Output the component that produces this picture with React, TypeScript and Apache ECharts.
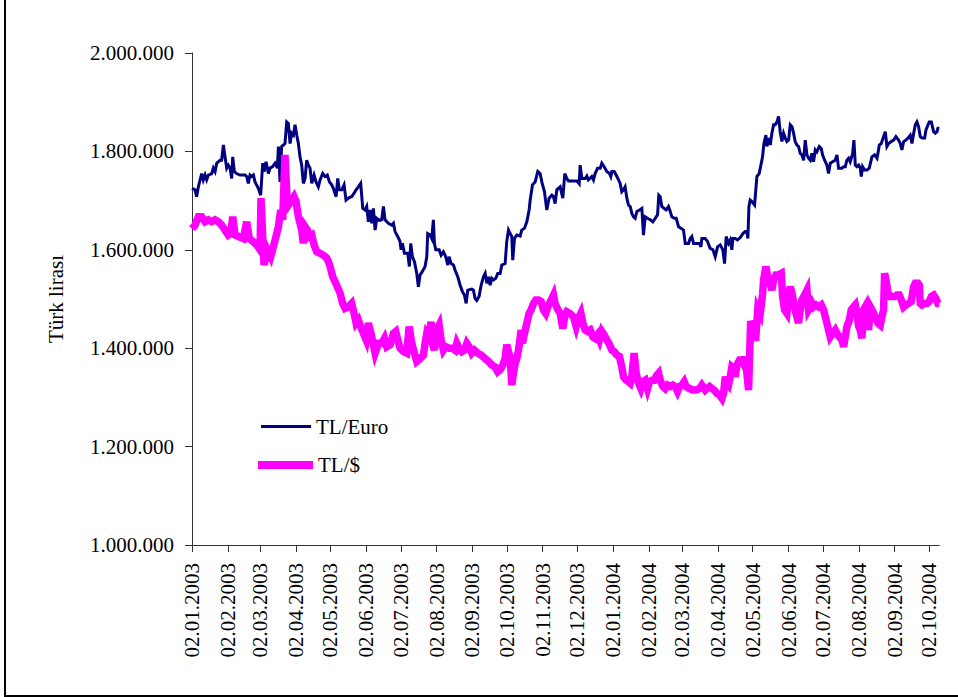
import React, { useEffect, useRef } from "react";
import * as echarts from "echarts";

// x positions are day offsets from 02.01.2003, values in thousand TL
const euroDays = [0,2.6,4.0,5.5,8.4,9.8,11.3,12.7,14.2,17.1,18.5,20.0,21.4,24.3,25.7,27.2,28.6,30.1,31.5,33.0,34.4,35.3,36.7,38.7,41.6,46.0,47.4,48.8,50.3,51.7,53.2,54.6,57.5,59.5,61.3,62.4,64.2,66.2,67.6,69.9,72.0,74.0,74.9,76.3,77.7,79.2,80.6,82.1,83.5,85.0,86.4,87.9,89.3,90.8,92.2,93.6,95.1,96.5,98.0,99.4,100.9,102.3,103.8,105.8,107.5,109.5,111.0,113.3,115.3,117.3,119.1,121.1,122.5,124.9,126.3,127.7,129.8,131.8,133.5,135.6,138.4,140.5,142.2,144.2,146.2,148.0,150.0,151.4,152.9,154.3,155.8,157.2,158.7,160.1,162.4,164.4,165.9,167.3,170.2,173.1,174.6,176.0,178.3,180.3,181.2,182.4,184.1,187.0,188.4,189.6,191.0,192.8,194.8,196.2,197.7,199.7,202.0,203.5,204.3,206.4,207.8,209.2,210.1,211.3,214.2,215.9,217.9,219.9,221.7,222.8,224.6,226.6,228.0,230.4,232.4,234.4,236.1,237.6,239.0,242.5,243.9,245.4,246.8,248.8,250.6,252.6,254.1,255.5,257.0,258.4,259.8,261.3,263.3,265.0,267.1,268.5,271.4,272.8,274.3,275.7,277.2,278.0,279.5,281.5,284.4,285.8,288.2,290.2,292.2,293.1,295.1,297.4,299.7,301.7,303.2,305.5,307.5,309.5,311.9,313.3,314.7,316.2,319.1,321.4,323.1,324.9,326.3,330.6,333.5,335.6,336.4,337.9,340.8,342.2,343.6,346.5,348.0,349.4,351.5,353.8,355.2,357.2,359.5,361.9,363.0,363.9,365.9,367.6,369.7,371.1,372.5,374.0,375.4,376.9,378.3,379.8,381.2,382.7,384.1,385.6,387.9,389.9,391.3,392.8,394.8,397.1,399.4,401.5,403.5,404.6,405.8,407.2,409.3,411.0,413.0,414.5,415.9,417.9,419.7,421.7,423.7,426.0,427.5,430.4,431.8,433.2,434.7,437.6,439.9,441.1,441.9,444.8,446.8,449.1,451.5,453.5,455.5,457.8,460.1,461.6,463.0,465.0,466.5,467.9,468.8,470.8,472.8,475.2,477.5,479.5,480.9,481.8,482.7,483.8,485.3,487.6,489.6,491.6,493.4,494.5,495.7,497.4,498.3,499.7,501.2,502.6,504.1,505.5,507.0,508.4,509.8,511.3,512.7,514.2,515.6,517.1,518.5,520.0,521.4,522.8,524.3,525.7,527.2,528.6,530.1,531.5,533.0,534.4,535.9,537.3,538.7,540.2,541.6,543.7,545.4,546.5,548.3,550.3,551.7,553.2,555.2,557.5,559.0,560.4,563.3,564.8,566.2,567.6,569.1,570.5,572.6,573.7,574.9,576.3,577.8,579.2,580.1,581.2,583.0,585.0,587.0,589.3,591.6,593.7,594.5,595.7,597.4,599.4,600.9,602.3,603.8,606.1,608.1,610.1,612.4,613.9,615.3,616.8,618.8,620.5,622.5,624.0,625.5,626.9,628.3,629.8,631.2,632.7,635.0,636.1,637.9,639.0,640.8,642.8,644.2,645.7,646.5,647.7];
const euroValues = [1725,1722,1708,1728,1755,1742,1752,1742,1752,1755,1766,1759,1776,1782,1782,1813,1789,1766,1772,1766,1745,1789,1759,1755,1752,1752,1749,1735,1752,1749,1752,1738,1725,1711,1776,1759,1779,1755,1766,1769,1776,1766,1810,1738,1810,1813,1816,1860,1857,1816,1837,1833,1854,1833,1816,1789,1772,1735,1745,1782,1772,1766,1735,1752,1738,1728,1742,1755,1749,1752,1738,1732,1725,1708,1745,1722,1722,1732,1701,1705,1708,1715,1722,1728,1735,1684,1681,1688,1657,1681,1654,1684,1640,1664,1660,1661,1688,1661,1654,1650,1654,1637,1627,1617,1600,1613,1593,1593,1566,1613,1586,1576,1552,1525,1549,1556,1566,1586,1633,1630,1623,1661,1613,1600,1600,1589,1596,1586,1569,1586,1572,1569,1559,1545,1528,1515,1508,1491,1518,1520,1518,1501,1497,1505,1528,1545,1552,1532,1545,1528,1542,1539,1542,1552,1552,1569,1572,1617,1640,1633,1627,1579,1623,1630,1628,1640,1644,1657,1681,1701,1732,1738,1759,1755,1738,1718,1681,1705,1711,1708,1694,1722,1728,1705,1755,1745,1740,1740,1740,1734,1772,1745,1745,1750,1742,1749,1742,1755,1766,1766,1776,1769,1759,1755,1749,1759,1759,1752,1742,1735,1718,1722,1728,1705,1691,1688,1674,1667,1664,1678,1681,1684,1630,1667,1664,1661,1657,1664,1671,1711,1708,1688,1684,1681,1688,1678,1667,1664,1664,1647,1644,1640,1613,1613,1623,1627,1613,1613,1613,1606,1623,1623,1617,1603,1600,1586,1606,1610,1600,1572,1627,1613,1620,1600,1623,1623,1620,1625,1633,1637,1637,1623,1688,1701,1698,1691,1749,1755,1776,1789,1816,1833,1810,1827,1813,1837,1854,1854,1860,1871,1840,1820,1837,1827,1820,1823,1854,1850,1837,1820,1813,1810,1796,1793,1782,1823,1793,1786,1782,1796,1779,1803,1799,1810,1806,1793,1782,1772,1755,1776,1779,1782,1793,1766,1766,1769,1769,1782,1786,1779,1796,1823,1772,1769,1772,1766,1749,1769,1762,1762,1766,1789,1793,1786,1796,1813,1816,1830,1840,1810,1816,1820,1823,1830,1823,1816,1803,1820,1823,1827,1833,1816,1837,1854,1860,1850,1830,1827,1827,1843,1854,1860,1860,1840,1837,1840,1847,1847];

const usdDays = [0,2.6,5.5,8.4,11.3,14.2,17.1,20.0,22.8,25.7,28.6,31.5,33.5,35.3,37.3,40.2,44.5,47.4,49.7,53.2,56.1,59.0,59.8,62.4,65.3,68.2,70.5,72.8,74.9,76.9,78.6,80.6,82.7,84.4,86.4,88.4,90.2,92.2,95.1,96.5,98.0,100.0,101.7,103.8,105.8,108.1,111.0,113.9,116.8,118.2,119.7,122.0,125.4,128.3,130.6,132.7,135.6,138.4,140.5,142.2,144.2,146.2,148.6,150.9,152.9,155.8,158.7,161.6,164.4,166.8,168.8,171.7,173.1,174.6,176.6,178.3,180.3,183.2,186.1,188.2,190.5,192.8,194.8,197.7,200.6,202.0,203.5,205.5,207.2,208.4,210.1,212.1,214.2,215.9,217.9,219.9,222.8,225.7,228.0,229.5,231.5,233.8,236.1,238.2,240.2,242.5,244.8,247.7,250.6,254.1,257.0,259.8,262.7,265.0,267.1,269.4,271.4,272.8,274.3,275.7,277.2,278.6,280.1,281.5,283.0,285.3,286.4,288.2,290.2,292.2,293.9,296.0,298.0,300.3,302.6,304.6,306.6,309.0,311.3,313.3,314.7,317.1,319.1,321.4,323.1,324.9,327.8,330.6,333.0,335.0,337.0,338.7,340.8,342.8,345.1,347.4,349.4,351.5,353.2,355.2,357.2,359.5,361.9,363.9,365.9,368.2,370.5,372.5,374.0,376.3,378.3,379.8,381.2,383.2,385.0,387.0,389.0,390.8,392.8,394.8,396.5,398.6,400.6,402.9,404.4,405.8,408.1,410.1,412.1,414.5,416.8,418.8,420.8,422.6,424.6,426.6,428.3,431.2,434.1,437.0,439.9,441.9,444.9,446.3,448.6,450.6,452.6,454.9,457.2,459.3,460.7,462.2,463.6,465.0,466.5,467.9,469.4,470.8,472.3,474.6,476.6,478.0,479.5,482.4,484.2,486.5,488.5,490.4,492.5,494.5,495.5,497.4,499.1,501.2,502.6,504.1,506.1,508.4,510.7,511.9,513.6,515.6,517.1,518.5,520.0,521.4,522.8,524.3,525.7,527.2,528.6,530.9,533.0,534.4,535.9,537.3,538.7,540.8,543.1,545.4,547.4,548.9,550.3,551.7,553.2,555.2,557.5,559.0,561.0,563.3,564.8,566.2,567.6,569.7,571.4,573.4,574.9,576.3,577.8,579.2,580.6,582.1,583.5,585.0,586.4,587.9,589.3,592.2,594.5,596.5,598.0,599.4,600.3,601.5,602.9,604.4,606.7,609.0,611.0,613.0,614.8,616.8,618.8,621.1,623.4,625.5,626.9,629.2,630.4,631.2,632.7,635.0,637.0,639.0,640.8,642.8,644.8,646.5,647.7];
const usdValues = [1643,1650,1667,1667,1657,1661,1657,1661,1657,1650,1640,1630,1633,1667,1630,1627,1623,1657,1623,1616,1610,1600,1705,1569,1600,1586,1606,1627,1647,1681,1661,1793,1688,1694,1701,1708,1698,1667,1640,1613,1647,1640,1627,1630,1610,1596,1593,1589,1583,1576,1566,1545,1528,1512,1491,1481,1484,1491,1471,1451,1457,1444,1430,1417,1451,1423,1390,1410,1410,1420,1403,1407,1417,1430,1434,1417,1400,1393,1390,1444,1410,1390,1373,1379,1386,1410,1430,1423,1454,1410,1396,1437,1447,1417,1396,1403,1400,1400,1396,1410,1400,1393,1396,1410,1403,1390,1396,1390,1386,1379,1373,1366,1362,1352,1356,1366,1379,1407,1393,1383,1325,1349,1369,1379,1396,1437,1410,1430,1451,1471,1478,1491,1498,1498,1495,1478,1471,1488,1498,1508,1491,1478,1471,1440,1465,1474,1470,1464,1444,1461,1471,1451,1437,1434,1437,1423,1420,1427,1417,1434,1427,1417,1407,1396,1393,1386,1383,1362,1342,1335,1332,1329,1342,1390,1349,1329,1318,1332,1335,1318,1332,1335,1335,1345,1349,1335,1322,1318,1325,1322,1325,1322,1312,1322,1325,1332,1322,1318,1315,1315,1318,1325,1315,1318,1322,1318,1315,1308,1305,1298,1308,1342,1329,1325,1342,1362,1359,1342,1366,1376,1376,1369,1383,1315,1455,1440,1415,1480,1470,1510,1540,1566,1545,1532,1518,1539,1549,1549,1552,1505,1478,1471,1505,1525,1512,1495,1478,1464,1451,1478,1498,1508,1518,1478,1484,1491,1484,1488,1484,1488,1478,1464,1451,1437,1423,1430,1437,1430,1423,1417,1403,1423,1444,1457,1478,1484,1488,1471,1444,1437,1420,1478,1484,1464,1437,1484,1478,1464,1451,1447,1464,1478,1552,1539,1518,1505,1505,1505,1508,1508,1498,1484,1488,1491,1495,1525,1532,1532,1528,1491,1488,1491,1491,1495,1505,1508,1501,1491,1491];

const tickLabels = ["02.01.2003","02.02.2003","02.03.2003","02.04.2003","02.05.2003","02.06.2003","02.07.2003","02.08.2003","02.09.2003","02.10.2003","02.11.2003","02.12.2003","02.01.2004","02.02.2004","02.03.2004","02.04.2004","02.05.2004","02.06.2004","02.07.2004","02.08.2004","02.09.2004","02.10.2004"];

const seriesNames = ["TL/Euro", "TL/$"];

const DAY = 86400000;
const BASE = Date.UTC(2003, 0, 2);
const parseDate = (s: string) => {
  const [dd, mm, yyyy] = s.split(".").map(Number);
  return Date.UTC(yyyy, mm - 1, dd);
};
const tickValues = tickLabels.map(parseDate);
const FONT = '"Liberation Serif", "Times New Roman", serif';
const FS = 21;

export default function App() {
  const ref = useRef<HTMLDivElement>(null);
  useEffect(() => {
    if (!ref.current) return;
    const chart = echarts.init(ref.current, undefined, { renderer: "svg" });
    const euroData = euroDays.map((d, i) => [BASE + d * DAY, euroValues[i] * 1000]);
    const usdData = usdDays.map((d, i) => [BASE + d * DAY, usdValues[i] * 1000]);
    chart.setOption({
      animation: false,
      backgroundColor: "#ffffff",
      textStyle: { fontFamily: FONT },
      grid: { left: 192, top: 53, right: 958 - 939.3, bottom: 697 - 545, containLabel: false },
      xAxis: {
        type: "value",
        min: BASE,
        max: BASE + 647.7 * DAY,
        axisLine: { show: true, lineStyle: { color: "#333", width: 1 } },
        axisTick: { show: true, customValues: tickValues, length: 7, lineStyle: { color: "#333" } },
        axisLabel: {
          customValues: tickValues,
          rotate: 90,
          margin: 18,
          color: "#000",
          fontSize: FS,
          fontFamily: FONT,
          formatter: (v: number) => {
            const i = tickValues.indexOf(v);
            return i >= 0 ? tickLabels[i] : "";
          },
        },
        splitLine: { show: false },
      },
      yAxis: {
        type: "value",
        min: 1000000,
        max: 2000000,
        interval: 200000,
        name: "Türk lirası",
        nameLocation: "middle",
        nameRotate: 90,
        nameGap: 126,
        nameTextStyle: { fontSize: FS, color: "#000", fontFamily: FONT },
        axisLine: { show: true, lineStyle: { color: "#333", width: 1 } },
        axisTick: { show: true, length: 7, lineStyle: { color: "#333" } },
        axisLabel: {
          margin: 18,
          color: "#000",
          fontSize: FS,
          fontFamily: FONT,
          formatter: (v: number) => String(v).replace(/\B(?=(\d{3})+(?!\d))/g, "."),
        },
        splitLine: { show: false },
      },
      legend: [
        {
          data: [seriesNames[0]],
          left: 261,
          top: 415,
          padding: 0,
          icon: "rect",
          itemWidth: 50,
          itemHeight: 3,
          selectedMode: false,
          textStyle: { fontSize: FS, color: "#000", fontFamily: FONT, lineHeight: 20, padding: [3, 0, 0, 0] },
        },
        {
          data: [seriesNames[1]],
          left: 258,
          top: 451,
          padding: 0,
          icon: "rect",
          itemWidth: 55,
          itemHeight: 8,
          selectedMode: false,
          textStyle: { fontSize: FS, color: "#000", fontFamily: FONT, lineHeight: 20, padding: [8, 0, 0, 0] },
        },
      ],
      graphic: [
        {
          type: "rect",
          shape: { x: 5, y: -10, width: 1000, height: 706 },
          style: { fill: "none", stroke: "#000", lineWidth: 2 },
          silent: true,
        },
      ],
      series: [
        {
          name: seriesNames[0],
          type: "line",
          data: euroData,
          showSymbol: false,
          symbol: "none",
          color: "#000080",
          lineStyle: { color: "#000080", width: 3, join: "miter", miterLimit: 4 },
        },
        {
          name: seriesNames[1],
          type: "line",
          data: usdData,
          showSymbol: false,
          symbol: "none",
          color: "#ff00ff",
          lineStyle: { color: "#ff00ff", width: 7.5, join: "miter", miterLimit: 4 },
        },
      ],
    });
    return () => chart.dispose();
  }, []);
  return <div ref={ref} style={{ position: "fixed", left: 0, top: 0, width: 958, height: 697 }} />;
}
